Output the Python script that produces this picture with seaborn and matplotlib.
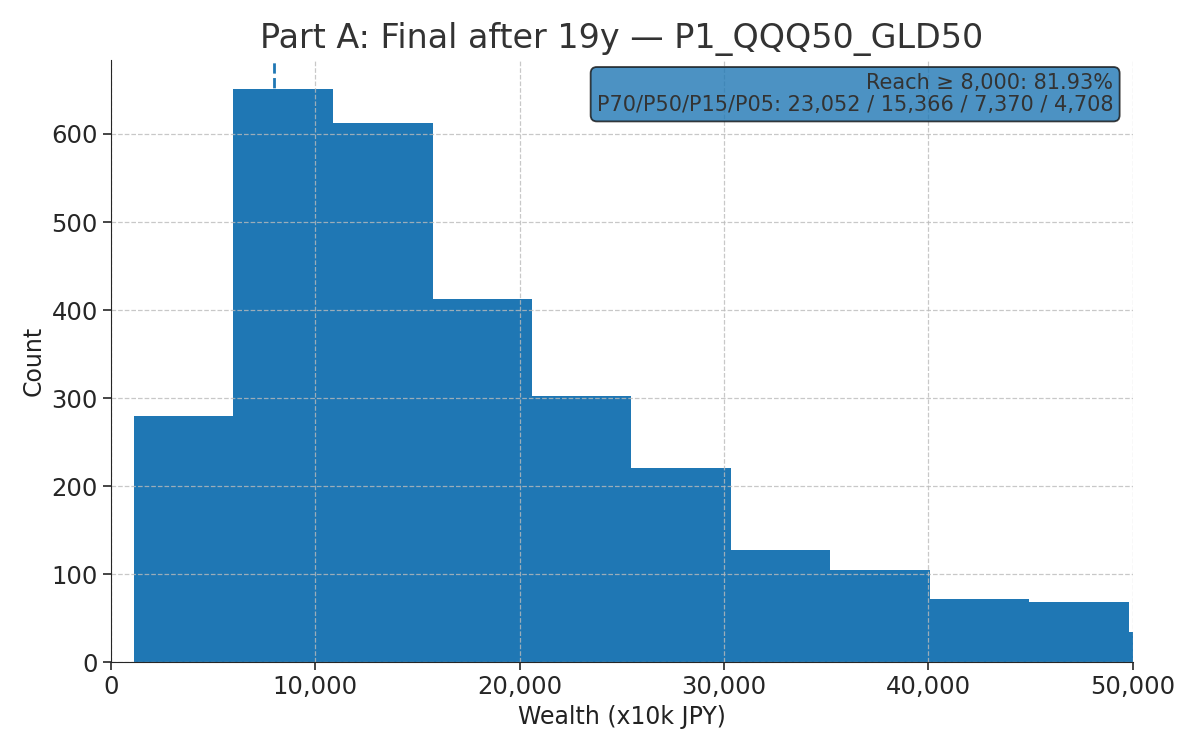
import numpy as np
import pandas as pd
import matplotlib
matplotlib.use("Agg")
import matplotlib.pyplot as plt
import seaborn as sns

# histogram (wealth in x10k JPY)
bin_edges = [1130, 5990, 10870, 15740, 20600, 25460, 30330, 35200, 40060, 44930, 49800, 54660]
counts = [280, 651, 612, 412, 302, 221, 128, 105, 72, 68, 34]
target = 8000
reach_pct = 81.93
p70, p50, p15, p05 = 23052, 15366, 7370, 4708

mids = [(a + b) / 2 for a, b in zip(bin_edges[:-1], bin_edges[1:])]
df = pd.DataFrame({'wealth': mids, 'n': counts})

sns.set_style('ticks')
plt.rcParams['font.family'] = ['DejaVu Sans']

fig, ax = plt.subplots(figsize=(12, 7.5), dpi=100)
sns.histplot(data=df, x='wealth', weights='n', bins=bin_edges, ax=ax,
             color='#1f77b4', alpha=1, edgecolor='none', linewidth=0)
ax.axvline(target, color='#1f77b4', linestyle='--', linewidth=2, zorder=0.5)

ax.set_xlim(0, 50000)
ax.set_ylim(0, 684)
ax.xaxis.set_major_formatter(matplotlib.ticker.FuncFormatter(lambda v, p: f'{v:,.0f}'))
ax.grid(True, linestyle='--', color='#bbbbbb', linewidth=0.9, alpha=0.8)
ax.set_axisbelow(False)
sns.despine(ax=ax)
for s in ax.spines.values():
    s.set_zorder(3)

ax.tick_params(labelsize=17.5, length=6, width=1.2)
ax.set_xlabel('Wealth (x10k JPY)', fontsize=17, color='#222222')
ax.set_ylabel('Count', fontsize=17, color='#222222')
ax.set_title('Part A: Final after 19y \u2014 P1_QQQ50_GLD50', fontsize=24, color='#333333', pad=9)

txt = (f'Reach \u2265 {target:,}: {reach_pct:.2f}%\n'
       f'P70/P50/P15/P05: {p70:,} / {p50:,} / {p15:,} / {p05:,}')
ax.text(0.981, 0.978, txt, transform=ax.transAxes, ha='right', va='top',
        fontsize=15, color='#333333', linespacing=1.12,
        bbox=dict(boxstyle='round,pad=0.3', facecolor='#1f77b4', alpha=0.8,
                  edgecolor='#111111', linewidth=1.3))

fig.subplots_adjust(left=0.0925, right=0.944, top=0.92, bottom=0.117)
fig.savefig('out.png', dpi=100)
